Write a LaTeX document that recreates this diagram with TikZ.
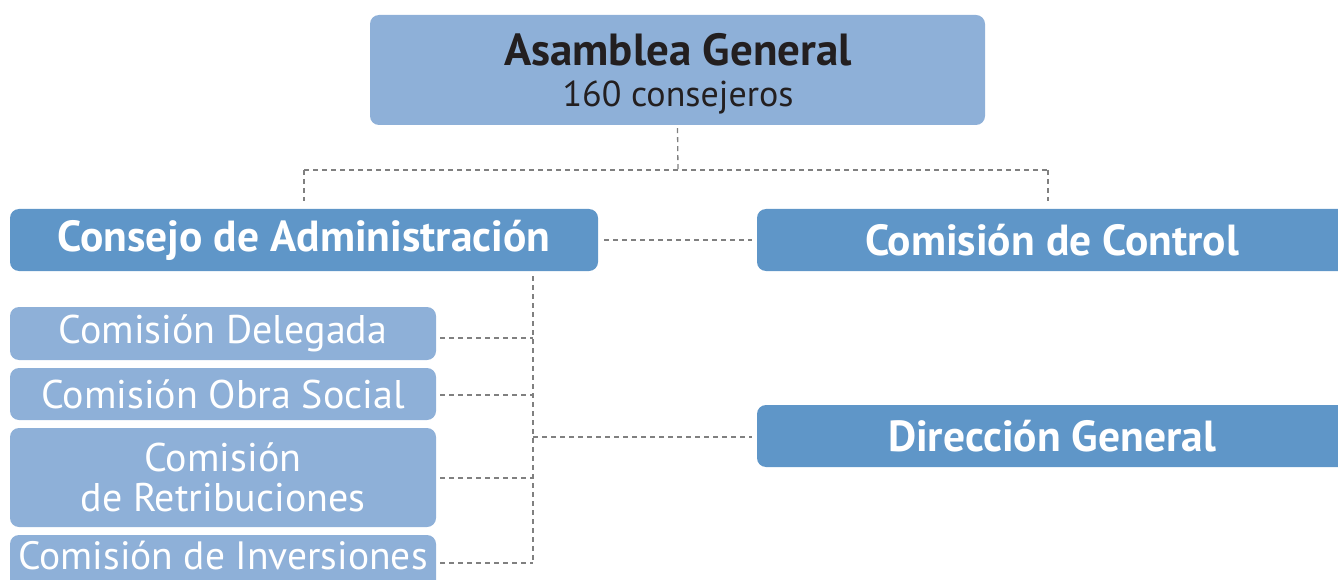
\documentclass[tikz,border=0pt]{standalone}
\usepackage{fontspec}
\setmainfont{PT Sans}
\begin{document}
\begin{tikzpicture}[x=1pt,y=-1pt,
  light/.style={fill=lightblue, rounded corners=9pt, inner sep=0pt, text=white, align=center, font=\fontsize{40}{40}\selectfont},
  dark/.style={fill=darkblue, rounded corners=9pt, inner sep=0pt, text=white, align=center, font=\bfseries\fontsize{43.5}{44}\selectfont},
  link/.style={draw=linkgray, line width=1.3pt, dash pattern=on 5pt off 4pt}
]
\definecolor{lightblue}{RGB}{142,176,216}
\definecolor{darkblue}{RGB}{95,150,200}
\definecolor{linkgray}{RGB}{128,128,128}
\definecolor{darktext}{RGB}{35,31,32}
\useasboundingbox (0,0) rectangle (1338,580);
\clip (0,0) rectangle (1338,580);

% top box
\node[light, minimum width=615pt, minimum height=110pt] (ag) at (677.5,70) {};
\node[text=darktext, inner sep=0pt, anchor=base, font=\bfseries\fontsize{45}{46}\selectfont] (agt) at (678,66) {Asamblea General};
\node[text=darktext, inner sep=0pt, anchor=base, font=\fontsize{36}{38}\selectfont] (ags) at (678,107) {160 consejeros};

\node[dark, minimum width=588pt, minimum height=62pt] (ca) at (304,240) {Consejo de Administración};
\node[dark, minimum width=590pt, minimum height=62pt] (cc) at (1052,240) {Comisión de Control};
\node[dark, minimum width=590pt, minimum height=62pt] (dg) at (1052,436) {Dirección General};

\node[light, minimum width=426pt, minimum height=53pt] (cd) at (223,333.5) {Comisión Delegada};
\node[light, minimum width=426pt, minimum height=52pt] (co) at (223,394) {Comisión Obra Social};
\node[light, minimum width=426pt, minimum height=99pt] (cr) at (223,477.5) {Comisión\\de Retribuciones};
\node[light, minimum width=426pt, minimum height=56pt] (ci) at (223,563) {};
\node[text=white, font=\fontsize{39.5}{40}\selectfont, inner sep=0pt] (citext) at (223,556) {Comisión de Inversiones};

% connectors
\coordinate (j1) at (678,170);
\coordinate (jl) at (304,170);
\coordinate (jr) at (1048,170);
\draw[link] ([yshift=-3pt]ag.south) -- (j1);
\draw[link] (jl) -- (jr);
\draw[link] (jl) -- (304,201);
\draw[link] (jr) -- (1048,201);
\draw[link] ([xshift=6pt]ca.east) -- ([xshift=-5pt]cc.west);

\coordinate (vt) at (533,276);
\coordinate (vb) at (533,563);
\draw[link] (vt) -- (vb);
\draw[link] ([xshift=4pt]cd.east |- 0,338) -- (533,338);
\draw[link] ([xshift=4pt]co.east |- 0,395) -- (533,395);
\draw[link] ([xshift=4pt]cr.east |- 0,478) -- (533,478);
\draw[link] ([xshift=4pt]ci.east |- 0,563) -- (vb);
\draw[link] (533,437) -- ([xshift=-5pt]dg.west |- 0,437);
\end{tikzpicture}
\end{document}
